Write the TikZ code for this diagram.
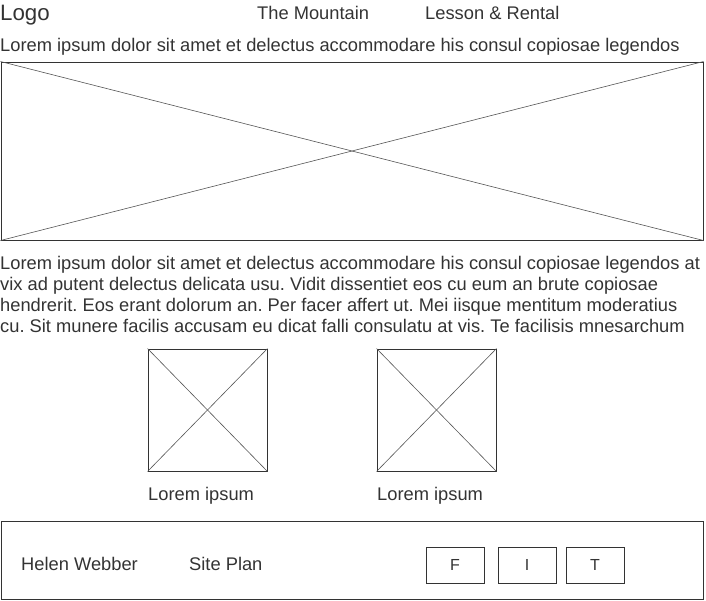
\documentclass[tikz,border=0pt]{standalone}
\usepackage{fontspec}
\setmainfont{Liberation Sans}
\usepackage{tikz}
\usetikzlibrary{positioning}
\definecolor{wire}{HTML}{333333}
\definecolor{cross}{HTML}{555555}
\tikzset{x=1pt, y=-1pt}
\tikzstyle{txt} = [anchor=base west, inner sep=0pt, text=wire, font=\fontsize{18.3}{21}\selectfont]
\tikzstyle{imgbox} = [rectangle, draw=wire, line width=1pt, inner sep=0pt]
\tikzstyle{diag} = [draw=cross, line width=0.6pt]
\tikzstyle{btn} = [rectangle, draw=wire, line width=1pt, inner sep=0pt, minimum width=58pt, minimum height=36pt, text=wire, font=\fontsize{16}{19}\selectfont]

\begin{document}
\begin{tikzpicture}
\frenchspacing
\useasboundingbox (0,0) rectangle (706,600);
\node [txt, font=\fontsize{22.3}{26}\selectfont] (logo) at (0, 20) {Logo};
\node [txt] (mountain) at (257, 19) {The Mountain};
\node [txt] (lesson) at (425, 19) {Lesson \& Rental};
\node [txt] (intro) at (0, 51) {Lorem ipsum dolor sit amet et delectus accommodare his consul copiosae legendos};
\node [imgbox, minimum width=702pt, minimum height=178pt] (hero) at (352, 151) {};
\draw [diag] (hero.north west) -- (hero.south east);
\draw [diag] (hero.south west) -- (hero.north east);
\node [txt, anchor=north west, align=left] (para) at (0, 256) {\frenchspacing Lorem ipsum dolor sit amet et delectus accommodare his consul copiosae legendos at\\vix ad putent delectus delicata usu. Vidit dissentiet eos cu eum an brute copiosae\\hendrerit. Eos erant dolorum an. Per facer affert ut. Mei iisque mentitum moderatius\\cu. Sit munere facilis accusam eu dicat falli consulatu at vis. Te facilisis mnesarchum};
\node [imgbox, minimum width=119pt, minimum height=122pt] (imgA) at (207.5, 410) {};
\draw [diag] (imgA.north west) -- (imgA.south east);
\draw [diag] (imgA.south west) -- (imgA.north east);
\node [imgbox, minimum width=119pt, minimum height=122pt] (imgB) at (436.5, 410) {};
\draw [diag] (imgB.north west) -- (imgB.south east);
\draw [diag] (imgB.south west) -- (imgB.north east);
\node [txt] (capA) at (148, 500) {Lorem ipsum};
\node [txt] (capB) at (377, 500) {Lorem ipsum};
\node [imgbox, minimum width=702pt, minimum height=78pt] (footer) at (352, 560) {};
\node [txt] (helen) at (21, 570) {Helen Webber};
\node [txt] (siteplan) at (189, 570) {Site Plan};
\node [btn] (F) at (455, 565) {F};
\node [btn] (I) at (527, 565) {I};
\node [btn] (T) at (595, 565) {T};
\end{tikzpicture}
\end{document}
